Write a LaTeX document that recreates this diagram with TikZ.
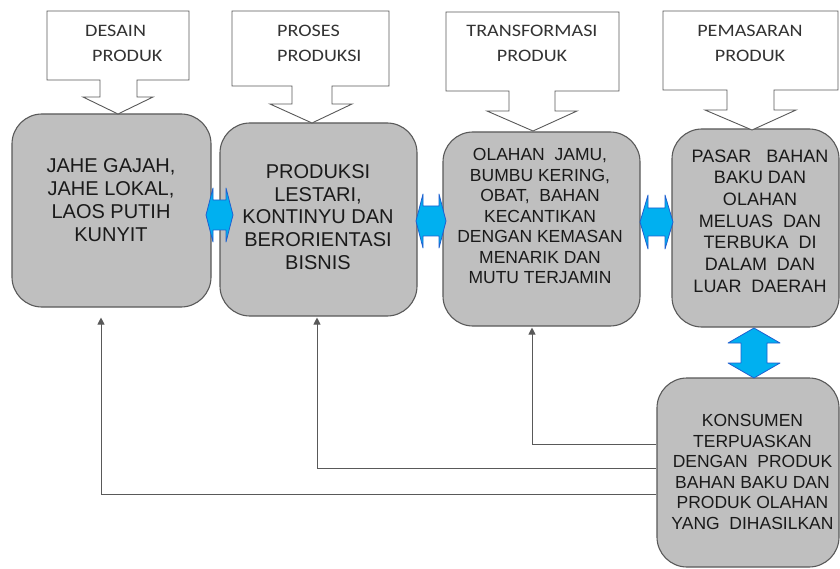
\documentclass[tikz,border=0pt]{standalone}
\usepackage{fontspec}
\setmainfont{Liberation Sans}
\newfontfamily\callfont[FakeStretch=1.15]{Carlito}
\usetikzlibrary{arrows.meta}
\definecolor{boxgray}{HTML}{BFBFBF}
\definecolor{edgec}{HTML}{595959}
\definecolor{txtc}{HTML}{1A1A1A}
\definecolor{calltxt}{HTML}{333333}
\definecolor{skyb}{HTML}{00B0F0}
\definecolor{skyedge}{HTML}{1F5FD0}
\tikzset{
  gbox/.style={draw=edgec, fill=boxgray, line width=1.1pt, rounded corners=30pt, inner sep=0pt},
  boxtxt/.style={align=center, text=txtc, inner sep=0pt},
  bigtxt/.style={boxtxt, font=\fontsize{20}{22.8}\selectfont},
  smalltxt/.style={boxtxt, font=\fontsize{17.5}{20.5}\selectfont},
  calltext/.style={text=calltxt, inner sep=0pt, font=\callfont\fontsize{17.5}{25}\selectfont},
  callout/.style={draw=edgec, fill=white, line width=0.9pt},
  blu/.style={fill=skyb, draw=skyedge, line width=0.8pt, line join=round},
  fb/.style={draw=edgec, line width=1pt, -{Triangle[length=7pt,width=7pt]}}
}
\begin{document}
\begin{tikzpicture}[x=1pt, y=-1pt]
\useasboundingbox (0,0) rectangle (840,569);
\fill[white] (0,0) rectangle (840,569);

% main boxes
\node[gbox, minimum width=199pt, minimum height=193pt] (A) at (111.5,210.5) {};
\node[gbox, minimum width=197pt, minimum height=193pt] (B) at (318.5,219.5) {};
\node[gbox, minimum width=197pt, minimum height=194pt] (C) at (541.5,229) {};
\node[gbox, minimum width=167pt, minimum height=198pt] (D) at (755.5,228) {};
\node[gbox, minimum width=182pt, minimum height=189pt] (E) at (748,472.5) {};

% box texts
\node[bigtxt] (tA) at (111,200) {JAHE GAJAH,\\JAHE LOKAL,\\LAOS PUTIH\\KUNYIT};
\node[bigtxt] (tB) at (318,217) {PRODUKSI\\LESTARI,\\KONTINYU DAN\\BERORIENTASI\\BISNIS};
\node[smalltxt] (tC) at (540,216) {OLAHAN\ \ JAMU,\\BUMBU KERING,\\OBAT,\ \ BAHAN\\KECANTIKAN\\DENGAN KEMASAN\\MENARIK DAN\\MUTU TERJAMIN};
\node[boxtxt, font=\fontsize{18}{21.7}\selectfont] (tD) at (760,221) {PASAR\ \ \ BAHAN\\BAKU DAN\\OLAHAN\\MELUAS\ \ DAN\\TERBUKA\ \ DI\\DALAM\ \ DAN\\LUAR\ \ DAERAH};
\node[smalltxt] (tE) at (752.5,472) {KONSUMEN\\TERPUASKAN\\DENGAN\ \ PRODUK\\BAHAN BAKU DAN\\PRODUK OLAHAN\\YANG\ \ DIHASILKAN};

% callouts
\draw[callout] (47,11) -- (189,11) -- (189,80) -- (137,80) -- (137,97) -- (153,97) -- (118,114) -- (83,97) -- (100,97) -- (100,80) -- (47,80) -- cycle;
\draw[callout] (232,11) -- (389,11) -- (389,86) -- (332,86) -- (332,104) -- (352,104) -- (312,123) -- (270,104) -- (292,104) -- (292,86) -- (232,86) -- cycle;
\draw[callout] (446,12) -- (619,12) -- (619,91) -- (555,91) -- (555,111) -- (577,111) -- (533,131) -- (487,111) -- (509,111) -- (509,91) -- (446,91) -- cycle;
\draw[callout] (663,11) -- (838,11) -- (838,90) -- (774,90) -- (774,110) -- (796,110) -- (752,130) -- (705,110) -- (727,110) -- (727,90) -- (663,90) -- cycle;

\node[calltext, align=left, anchor=west] (c1) at (85,43) {DESAIN\\\hspace*{7pt}PRODUK};
\node[calltext, align=left, anchor=west] (c2) at (277,43) {PROSES\\PRODUKSI};
\node[calltext, align=center] (c3) at (532,43) {TRANSFORMASI\\PRODUK};
\node[calltext, align=center] (c4) at (750,43) {PEMASARAN\\PRODUK};

% blue double arrows
\draw[blu] (206,215) -- (213,188) -- (213,200) -- (226,200) -- (226,188) -- (233,215) -- (226,242) -- (226,230) -- (213,230) -- (213,242) -- cycle;
\draw[blu] (416,221) -- (423,194) -- (423,206) -- (439,206) -- (439,194) -- (446,221) -- (439,248) -- (439,236) -- (423,236) -- (423,248) -- cycle;
\draw[blu] (640,222) -- (648,195) -- (648,208) -- (665,208) -- (665,195) -- (673,222) -- (665,249) -- (665,236) -- (648,236) -- (648,249) -- cycle;
\draw[blu] (754,328) -- (780,343) -- (767,343) -- (767,363) -- (780,363) -- (754,378) -- (728,363) -- (741,363) -- (741,343) -- (728,343) -- cycle;

% feedback connectors
\draw[fb, shorten >=1pt] ([yshift=28.5pt]E.west) -| ([xshift=-9.5pt]C.south);
\draw[fb, shorten >=1pt] ([yshift=4.5pt]E.west) -| ([xshift=-1.5pt]B.south);
\draw[fb, shorten >=10pt] ([yshift=-21.5pt]E.west) -| ([xshift=-10.5pt]A.south);
\end{tikzpicture}
\end{document}
